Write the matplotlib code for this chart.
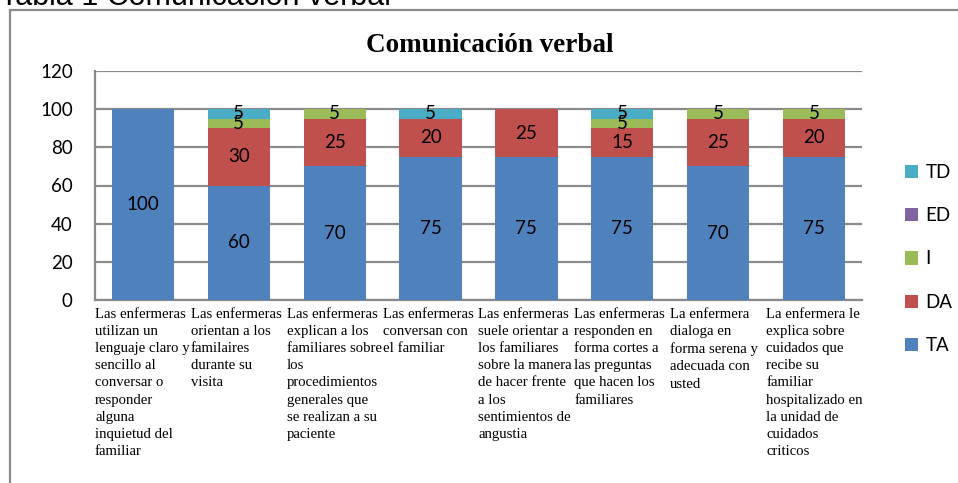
import numpy as np
import matplotlib.pyplot as plt
from matplotlib.patches import Rectangle

# ==========================[Data]=============================
categories = [
    "Las enfermeras\nutilizan un\nlenguaje claro y\nsencillo al\nconversar o\nresponder\nalguna\ninquietud del\nfamiliar",
    "Las enfermeras\norientan a los\nfamilaires\ndurante su\nvisita",
    "Las enfermeras\nexplican a los\nfamiliares sobre\nlos\nprocedimientos\ngenerales que\nse realizan a su\npaciente",
    "Las enfermeras\nconversan con\nel familiar",
    "Las enfermeras\nsuele orientar a\nlos familiares\nsobre la manera\nde hacer frente\na los\nsentimientos de\nangustia",
    "Las enfermeras\nresponden en\nforma cortes a\nlas preguntas\nque hacen los\nfamiliares",
    "La enfermera\ndialoga en\nforma serena y\nadecuada con\nusted",
    "La enfermera le\nexplica sobre\ncuidados que\nrecibe su\nfamiliar\nhospitalizado en\nla unidad de\ncuidados\ncriticos",
]

TA = [100, 60, 70, 75, 75, 75, 70, 75]
DA = [0, 30, 25, 20, 25, 15, 25, 20]
I = [0, 5, 5, 0, 0, 5, 5, 5]
ED = [0, 0, 0, 0, 0, 0, 0, 0]
TD = [0, 5, 0, 5, 0, 5, 0, 0]

series_names = ['TA', 'DA', 'I', 'ED', 'TD']
series_vals = [TA, DA, I, ED, TD]
colors = ['#4F81BD', '#C0504D', '#9BBB59', '#8064A2', '#4BACC6']

title = "Comunicación verbal"
caption = "Tabla 1 Comunicación verbal"

# ==========================[Figure]=============================
W, H = 958, 483
fig = plt.figure(figsize=(W / 100, H / 100), dpi=100)

# outer chart frame (cut at the right and bottom)
fig.patches.append(Rectangle((10 / W, -0.05), 1.0, 1 - 10 / H + 0.05,
                             transform=fig.transFigure, fill=False,
                             edgecolor='#8a8a8a', linewidth=1.6))

fig.text(0.0, 1 - 5 / H, caption, fontsize=22, family='Liberation Sans',
         ha='left', va='baseline', color='black')

fig.text(490 / W, 1 - 45 / H, title, fontsize=19.5, fontweight='bold',
         family='Liberation Serif', ha='center', va='center')

ax = fig.add_axes([95 / W, (H - 300) / H, (862 - 95) / W, (300 - 71) / H])

x = np.arange(len(categories))
bottom = np.zeros(len(categories))
handles = []
for name, vals, c in zip(series_names, series_vals, colors):
    vals = np.array(vals, dtype=float)
    bars = ax.bar(x, vals, 0.65, bottom=bottom, color=c, label=name, zorder=3)
    handles.append(bars)
    for xi, b, v in zip(x, bottom, vals):
        if v > 0:
            ax.text(xi, b + v / 2, f"{int(v)}", ha='center', va='center',
                    fontsize=13.5, family='Lato', color='black', zorder=4)
    bottom += vals

ax.set_xlim(-0.5, len(categories) - 0.5)
ax.set_ylim(0, 120)
ax.set_yticks(range(0, 121, 20))
ax.yaxis.grid(True, color='#8a8a8a', linewidth=1.6, zorder=0)
ax.tick_params(axis='y', length=0, pad=16, labelsize=13.5)
for lab in ax.get_yticklabels():
    lab.set_family('Lato')
ax.set_xticks([])
for s in ['top', 'right']:
    ax.spines[s].set_visible(False)
for s in ['left', 'bottom']:
    ax.spines[s].set_color('#8a8a8a')
    ax.spines[s].set_linewidth(1.6)

# category labels, left aligned under each slot
for xi, lab in zip(x, categories):
    ax.text(xi - 0.5, -4.0, lab, ha='left', va='top', fontsize=10.6,
            family='Liberation Serif', linespacing=1.42, clip_on=False)

leg = fig.legend(handles[::-1], series_names[::-1], loc='center left',
                 bbox_to_anchor=(888 / W, 1 - 259 / H), frameon=False,
                 prop={'family': 'Lato', 'size': 13.5}, handlelength=0.7,
                 handleheight=0.7, handletextpad=0.4, labelspacing=1.4)

fig.savefig('out.png', dpi=100)
